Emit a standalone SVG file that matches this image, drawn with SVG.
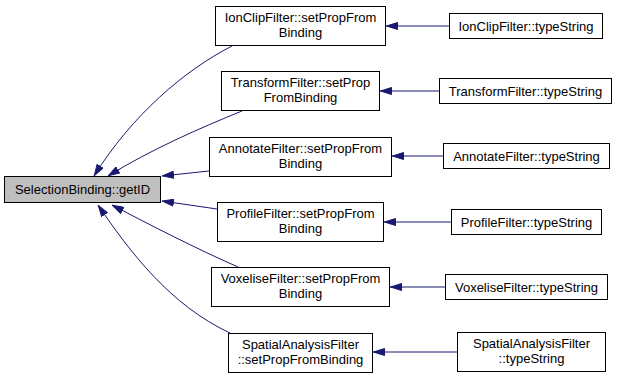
<svg xmlns="http://www.w3.org/2000/svg" width="619" height="379" viewBox="0 0 619 379">
<style>
rect{fill:#fff;stroke:#000;stroke-width:1}
#root rect{fill:#bfbfbf}
text{font-family:"Liberation Sans",Arial,sans-serif;font-size:13px;text-anchor:middle;fill:#000}
.e{fill:none;stroke:#191970;stroke-width:1;marker-end:url(#ah)}
</style>
<defs>
<marker id="ah" viewBox="0 0 12 8" refX="12" refY="4" markerWidth="12" markerHeight="8" markerUnits="userSpaceOnUse" orient="auto">
<path d="M0.5,0.5 L11.5,4 L0.5,7.5 z" fill="#191970" stroke="#191970"/>
</marker>
</defs>
<rect x="0" y="0" width="619" height="379" style="fill:#fff;stroke:none"/>
<g id="edges">
<path class="e" d="M232,46 C185,70 132,115 94,176"/>
<path class="e" d="M242,111 C200,128 150,150 108,176"/>
<path class="e" d="M209,171 L162,176"/>
<path class="e" d="M217,209 L162,201"/>
<path class="e" d="M238,267 C195,248 152,226 112,205"/>
<path class="e" d="M230,333 C170,305 130,252 98,205"/>
<path class="e" d="M449,26 L386,26"/>
<path class="e" d="M439,91 L380,91"/>
<path class="e" d="M443,156 L392,156"/>
<path class="e" d="M451,222 L384,222"/>
<path class="e" d="M445,287 L390,287"/>
<path class="e" d="M457,352 L373,352"/>
</g>
<g id="root"><rect x="4.5" y="176.5" width="156" height="26"/><text x="82.5" y="193.5">SelectionBinding::getID</text></g>
<g id="n1"><rect x="215.5" y="6.5" width="170" height="39"/><text x="300.5" y="21.5">IonClipFilter::setPropFrom</text><text x="300.5" y="37">Binding</text></g>
<g id="n2"><rect x="221.5" y="71.5" width="158" height="39"/><text x="300.5" y="86.5">TransformFilter::setProp</text><text x="300.5" y="102">FromBinding</text></g>
<g id="n3"><rect x="209.5" y="137.5" width="182" height="39"/><text x="300.5" y="152.5">AnnotateFilter::setPropFrom</text><text x="300.5" y="168">Binding</text></g>
<g id="n4"><rect x="217.5" y="202.5" width="166" height="39"/><text x="300.5" y="217.5">ProfileFilter::setPropFrom</text><text x="300.5" y="233">Binding</text></g>
<g id="n5"><rect x="211.5" y="267.5" width="178" height="39"/><text x="300.5" y="282.5">VoxeliseFilter::setPropFrom</text><text x="300.5" y="298">Binding</text></g>
<g id="n6"><rect x="228.5" y="333.5" width="144" height="39"/><text x="300.5" y="348.5">SpatialAnalysisFilter</text><text x="300.5" y="364">::setPropFromBinding</text></g>
<g id="t1"><rect x="449.5" y="13.5" width="153" height="25"/><text x="526" y="30.5">IonClipFilter::typeString</text></g>
<g id="t2"><rect x="439.5" y="78.5" width="172" height="25"/><text x="525.5" y="95.5">TransformFilter::typeString</text></g>
<g id="t3"><rect x="443.5" y="143.5" width="166" height="25"/><text x="526.5" y="160.5">AnnotateFilter::typeString</text></g>
<g id="t4"><rect x="451.5" y="209.5" width="150" height="25"/><text x="526.5" y="226.5">ProfileFilter::typeString</text></g>
<g id="t5"><rect x="445.5" y="274.5" width="162" height="25"/><text x="526.5" y="291.5">VoxeliseFilter::typeString</text></g>
<g id="t6"><rect x="457.5" y="332.5" width="148" height="39"/><text x="531.5" y="347.5">SpatialAnalysisFilter</text><text x="531.5" y="363">::typeString</text></g>
</svg>
